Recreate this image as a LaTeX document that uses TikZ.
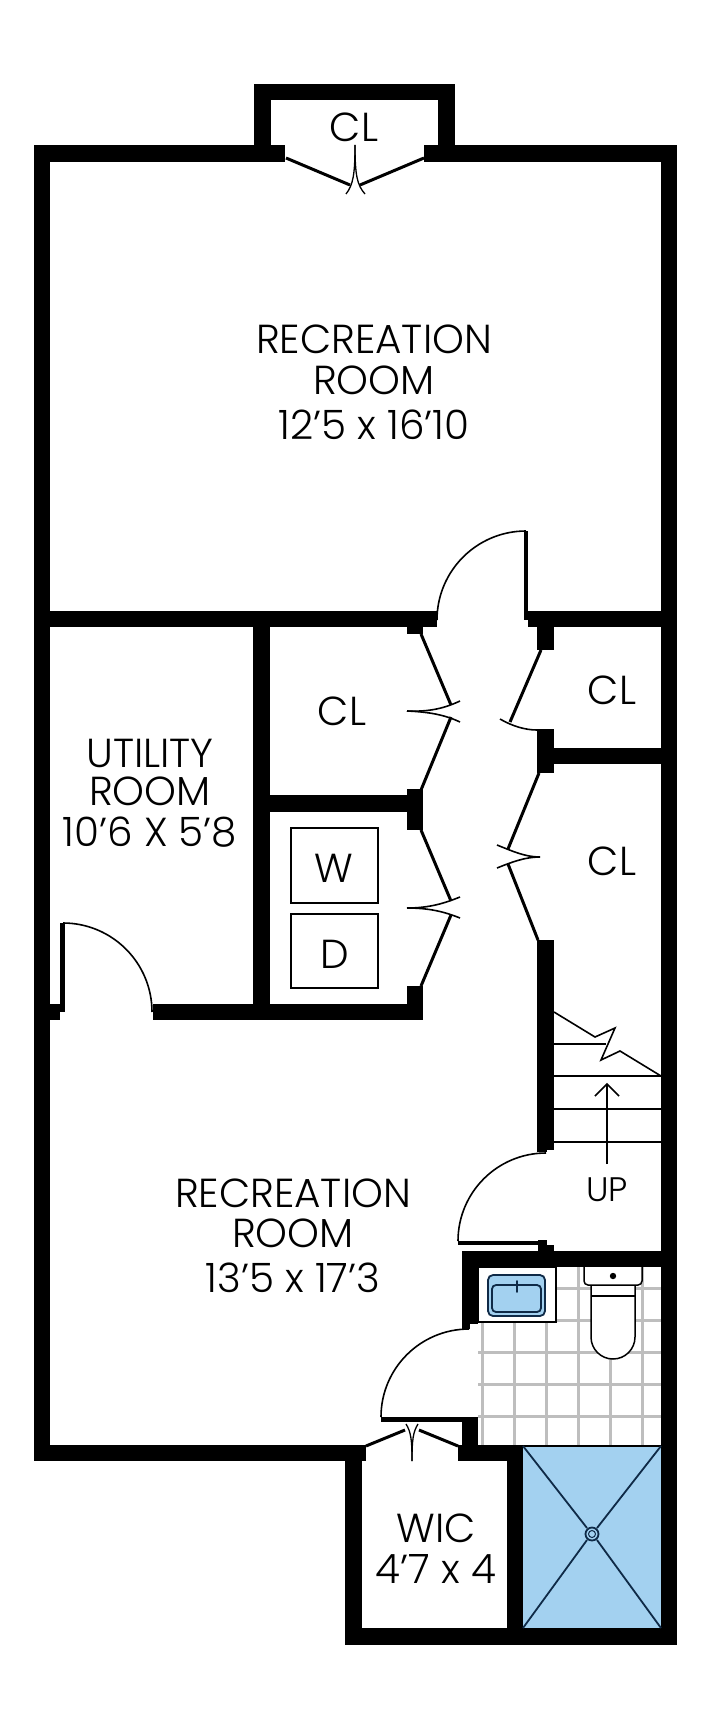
\documentclass[tikz,border=0pt]{standalone}
\usepackage{fontspec}
\setmainfont{Poppins}[UprightFont=* Light]
\definecolor{showerblue}{HTML}{A3D1F0}
\definecolor{navyline}{HTML}{0F2A47}
\definecolor{tilegray}{HTML}{BEBEBE}
\tikzset{
  wall/.style={fill=black,draw=none},
  leaf/.style={line width=3pt},
  swing/.style={line width=1.6pt},
  tread/.style={line width=1.6pt},
  room/.style={anchor=base,inner sep=0pt,align=center,font=\fontsize{40.5}{40.5}\selectfont},
  plumbing/.style={draw=navyline,line width=1.8pt}
}
\begin{document}
\begin{tikzpicture}[x=1pt,y=-1pt]
        \useasboundingbox (0,0) rectangle (721,1712);
        \foreach \tilex in {482,514,546,578,610,642} \draw[tilegray,line width=3pt] (\tilex,1267) -- (\tilex,1445);
        \foreach \tiley in {1288,1320,1352,1384,1416} \draw[tilegray,line width=3pt] (478,\tiley) -- (661,\tiley);
        \draw[fill=showerblue,draw=none] (523,1446) rectangle (661,1628);
        \draw[wall] (254,84) rectangle (455,100);
        \draw[wall] (254,84) rectangle (271,162);
        \draw[wall] (438,84) rectangle (455,162);
        \draw[wall] (34,145) rectangle (285,162);
        \draw[wall] (424,145) rectangle (677,162);
        \draw[wall] (34,145) rectangle (50,1461);
        \draw[wall] (661,145) rectangle (677,1645);
        \draw[wall] (34,611) rectangle (437,627);
        \draw[wall] (524,611) rectangle (661,620);
        \draw[wall] (528,620) rectangle (661,627);
        \draw[wall] (407,627) rectangle (423,634);
        \draw[wall] (537,627) rectangle (554,650);
        \draw[wall] (537,729) rectangle (554,773);
        \draw[wall] (554,748) rectangle (661,764);
        \draw[wall] (537,940) rectangle (554,1150);
        \draw[wall] (537,1150) rectangle (547,1152);
        \draw[wall] (253,627) rectangle (270,1020);
        \draw[wall] (253,795) rectangle (407,812);
        \draw[wall] (407,789) rectangle (423,830);
        \draw[wall] (407,986) rectangle (423,1020);
        \draw[wall] (153,1004) rectangle (423,1020);
        \draw[wall] (50,1004) rectangle (65,1012);
        \draw[wall] (50,1012) rectangle (60,1020);
        \draw[wall] (60,923) rectangle (65,1004);
        \draw[wall] (524,531) rectangle (528,611);
        \draw[wall] (458,1241) rectangle (538,1245);
        \draw[wall] (538,1240) rectangle (547,1251);
        \draw[wall] (547,1245) rectangle (554,1251);
        \draw[wall] (462,1251) rectangle (661,1267);
        \draw[wall] (462,1251) rectangle (478,1324);
        \draw[wall] (462,1324) rectangle (470,1329);
        \draw[wall] (381,1417) rectangle (470,1422);
        \draw[wall] (470,1417) rectangle (478,1422);
        \draw[wall] (462,1422) rectangle (478,1461);
        \draw[wall] (458,1445) rectangle (523,1461);
        \draw[wall] (507,1445) rectangle (523,1645);
        \draw[wall] (523,1445) rectangle (661,1447);
        \draw[wall] (345,1628) rectangle (677,1645);
        \draw[wall] (345,1461) rectangle (362,1645);
        \draw[wall] (34,1445) rectangle (366,1461);
        \draw[swing] (437,620) arc (180:270:89);
        \draw[swing] (152,1012) arc (0:-90:89);
        \draw[swing] (458,1241) arc (180:270:88);
        \draw[swing] (381,1417) arc (180:270:88);
        \draw[leaf] (286,158) -- (350,185);
        \draw[leaf] (424,158) -- (360,185);
        \draw[line width=1.3pt] (355,145) .. controls (355,175) and (353,185) .. (346,194);
        \draw[line width=1.3pt] (355,145) .. controls (355,175) and (357,185) .. (365,194);
        \draw[leaf] (421,634) -- (451,705);
        \draw[leaf] (451,717) -- (421,790);
        \draw[swing] (407,711) .. controls (430,712) and (445,708) .. (460,701);
        \draw[swing] (407,711) .. controls (430,712) and (445,715) .. (460,722);
        \draw[leaf] (421,830) -- (451,901);
        \draw[leaf] (451,915) -- (421,986);
        \draw[swing] (407,908) .. controls (430,908) and (445,903) .. (460,897);
        \draw[swing] (407,908) .. controls (430,908) and (445,912) .. (460,918);
        \draw[leaf] (541,650) -- (510,722);
        \draw[swing] (537,730) .. controls (525,730) and (512,726) .. (500,719);
        \draw[leaf] (539,773) -- (508,849);
        \draw[leaf] (508,864) -- (538,940);
        \draw[swing] (540,857) .. controls (525,857) and (512,851) .. (497,845);
        \draw[swing] (540,857) .. controls (525,857) and (512,862) .. (497,868);
        \draw[leaf] (366,1446) -- (405,1430);
        \draw[leaf] (419,1430) -- (458,1446);
        \draw[line width=1.3pt] (412,1461) .. controls (412,1440) and (411,1432) .. (406,1424);
        \draw[line width=1.3pt] (412,1461) .. controls (412,1440) and (413,1432) .. (418,1424);
        \draw[line width=1.5pt] (291,828) rectangle (378,903);
        \draw[line width=1.5pt] (291,914) rectangle (378,988);
        \draw[tread] (554,1012) -- (595,1037) -- (615,1028) -- (601,1060) -- (620,1051) -- (661,1076);
        \draw[tread] (554,1044) -- (606,1044);
        \foreach \tready in {1076,1109,1142} \draw[tread] (554,\tready) -- (661,\tready);
        \draw[tread] (607,1164) -- (607,1084);
        \draw[tread] (595,1096) -- (607,1084) -- (619,1096);
        \draw[fill=white,line width=1.5pt] (478,1267) rectangle (556,1322);
        \draw[plumbing,fill=showerblue,rounded corners=5pt] (488,1275) -- (545,1275) -- (545,1316) -- (488,1316) -- cycle;
        \draw[plumbing,rounded corners=4pt] (492,1285) -- (541,1285) -- (541,1312) -- (492,1312) -- cycle;
        \draw[plumbing,line cap=round] (517,1281) -- (517,1292);
        \draw[fill=white,line width=1.5pt] (591,1285) -- (635,1285) -- (635,1337) arc (0:180:22) -- cycle;
        \draw[line width=1.5pt] (591,1296) -- (635,1296);
        \draw[fill=white,line width=1.5pt,rounded corners=4pt] (584,1267) -- (584,1285) -- (642,1285) -- (642,1267);
        \fill (613,1276) circle (3.2);
        \draw[plumbing] (523,1446) -- (587,1528);
        \draw[plumbing] (661,1446) -- (597,1528);
        \draw[plumbing] (523,1628) -- (587,1540);
        \draw[plumbing] (661,1628) -- (597,1540);
        \draw[plumbing] (592,1534) circle (6.5);
        \draw[plumbing,line width=1pt] (592,1534) circle (3.5);
        \node[room] (closettop) at (354,142) {CL};
        \node[room] (rectoplabel) at (374,353) {RECREATION};
        \node[room] (rectoproom) at (374,394) {ROOM};
        \node[room] (rectopsize) at (374,439) {12’5 x 16’10};
        \node[room] (utilname) at (150,767) {UTILITY};
        \node[room] (utilroom) at (150,805) {ROOM};
        \node[room] (utilsize) at (150,846) {10’6 X 5’8};
        \node[room] (closetleft) at (342,725) {CL};
        \node[room] (closetupper) at (612,704) {CL};
        \node[room] (closetlower) at (612,875) {CL};
        \node[room] (washer) at (334,882) {W};
        \node[room] (dryer) at (335,968) {D};
        \node[room] (recbotlabel) at (293,1207) {RECREATION};
        \node[room] (recbotroom) at (293,1247) {ROOM};
        \node[room] (recbotsize) at (293,1292) {13’5 x 17’3};
        \node[room,font=\fontsize{34}{34}\selectfont] (stairsup) at (607,1201) {UP};
        \node[room] (wicname) at (436,1542) {WIC};
        \node[room] (wicsize) at (436,1583) {4’7 x 4};
    \end{tikzpicture}
\end{document}
